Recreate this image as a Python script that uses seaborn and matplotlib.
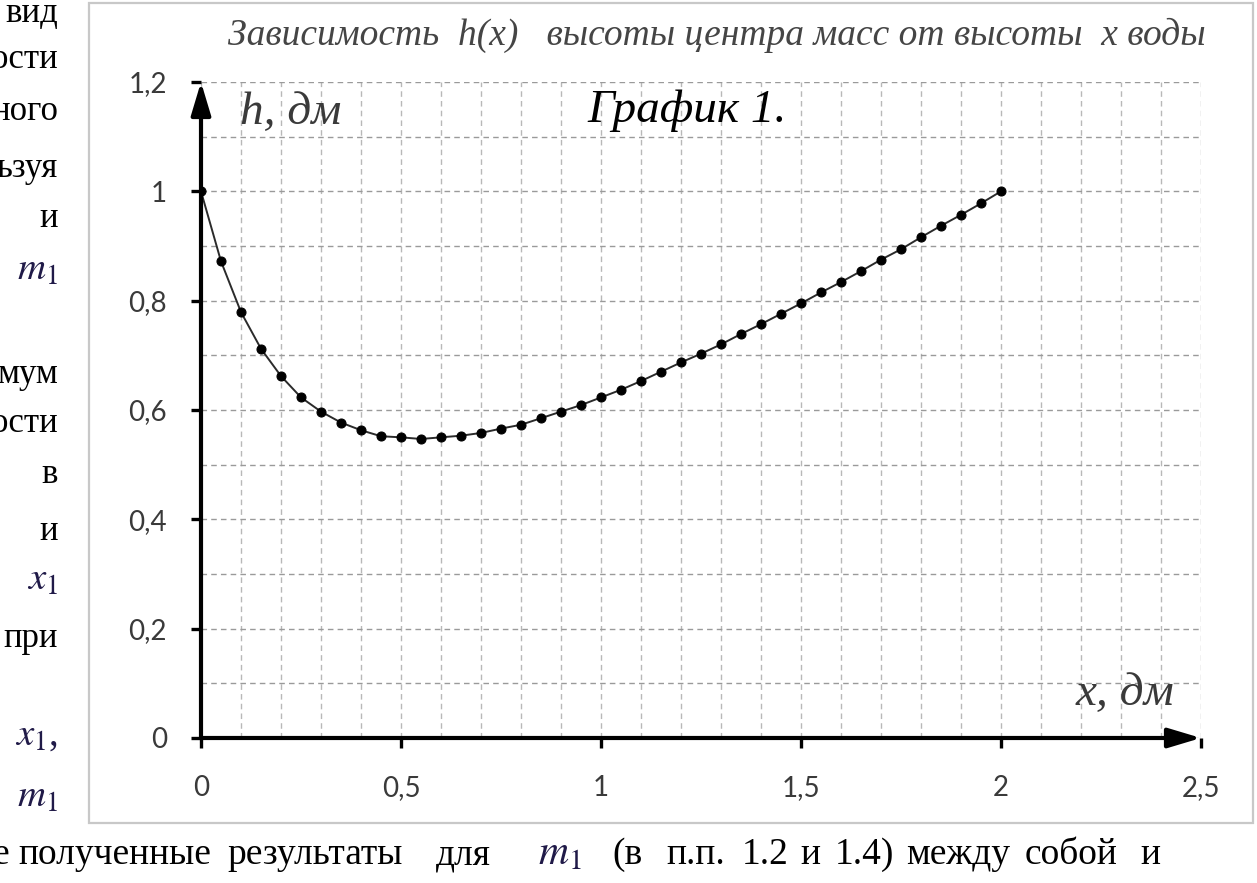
import numpy as np
import matplotlib
matplotlib.use("Agg")
import matplotlib.pyplot as plt
import seaborn as sns
from matplotlib.patches import Rectangle

# data
x_vals = [0.0, 0.05, 0.1, 0.15, 0.2, 0.25, 0.3, 0.35, 0.4, 0.45, 0.5,
          0.55, 0.6, 0.65, 0.7, 0.75, 0.8, 0.85, 0.9, 0.95, 1.0,
          1.05, 1.1, 1.15, 1.2, 1.25, 1.3, 1.35, 1.4, 1.45, 1.5,
          1.55, 1.6, 1.65, 1.7, 1.75, 1.8, 1.85, 1.9, 1.95, 2.0]
h_vals = [1.0, 0.872, 0.779, 0.712, 0.662, 0.623, 0.597, 0.577, 0.563, 0.552, 0.550,
          0.547, 0.550, 0.553, 0.558, 0.566, 0.573, 0.585, 0.597, 0.609, 0.623,
          0.637, 0.653, 0.670, 0.687, 0.703, 0.720, 0.739, 0.757, 0.776, 0.795,
          0.815, 0.834, 0.854, 0.875, 0.894, 0.916, 0.937, 0.957, 0.978, 1.0]

x_ticks = [0, 0.5, 1, 1.5, 2, 2.5]
x_tick_labels = ["0", "0,5", "1", "1,5", "2", "2,5"]
y_ticks = [0, 0.2, 0.4, 0.6, 0.8, 1.0, 1.2]
y_tick_labels = ["0", "0,2", "0,4", "0,6", "0,8", "1", "1,2"]

title_text = "Зависимость  h(x)   высоты центра масс от высоты  x воды"

# fragments of the surrounding page text
side_words = [("вид", 22), ("ости", 68), ("ного", 120), ("ьзуя", 177),
              ("и", 227), ("$m_1$", 280), ("мум", 383), ("ости", 432),
              ("в", 483), ("и", 540), ("$x_1$", 590), ("при", 647),
              ("$x_1$,", 745), ("$m_1$", 807)]
bottom_words = [("е", -8), ("полученные", 18), ("результаты", 227), ("для", 436),
                ("$m_1$", 538), ("(в", 612), ("п.п.", 666), ("1.2", 742),
                ("и", 800), ("1.4)", 835), ("между", 906), ("собой", 1025),
                ("и", 1140)]

W, H = 1257, 883


def fx(px):
    return px / W


def fy(py):
    return 1 - py / H


sns.set_theme(style="white")
plt.rcParams["font.family"] = ["Liberation Serif", "DejaVu Serif"]
plt.rcParams["mathtext.fontset"] = "stix"

fig = plt.figure(figsize=(W / 100, H / 100), dpi=100)
fig.patch.set_facecolor("white")

# chart frame
fig.add_artist(Rectangle((fx(89), fy(823)), fx(1253) - fx(89), fy(3) - fy(823),
                         transform=fig.transFigure, fill=False,
                         edgecolor="#c8c8c8", lw=1.6))

ax = fig.add_axes([fx(201), fy(738), fx(1201) - fx(201), fy(82) - fy(738)])
ax.set_facecolor("white")

sns.lineplot(x=x_vals, y=h_vals, ax=ax, color="#2b2b2b", lw=1.4,
             marker="o", markersize=6.5, markerfacecolor="black",
             markeredgecolor="black", zorder=5)

ax.set_xlim(0, 2.5)
ax.set_ylim(0, 1.2)
ax.set_xticks(x_ticks)
ax.set_xticklabels(x_tick_labels)
ax.set_yticks(y_ticks)
ax.set_yticklabels(y_tick_labels)
ax.set_xticks(np.arange(0, 2.51, 0.1), minor=True)
ax.set_yticks(np.arange(0, 1.21, 0.1), minor=True)
ax.set_xlabel("")
ax.set_ylabel("")

ax.xaxis.grid(True, which="both", color="#b8b8b8", lw=1.0, ls=(0, (4, 3)))
ax.yaxis.grid(True, which="both", color="#9a9a9a", lw=1.0, ls=(0, (4, 3)))
ax.set_axisbelow(True)

for s in ax.spines.values():
    s.set_visible(False)

ax.tick_params(axis="both", which="major", length=7.5, width=2.4, color="black",
               direction="out", labelsize=20, labelcolor="#3a3a3a")
ax.tick_params(axis="both", which="minor", length=0)
ax.tick_params(axis="y", pad=17, left=True)
ax.tick_params(axis="x", pad=19, bottom=True)
for lab in ax.get_xticklabels() + ax.get_yticklabels():
    lab.set_family(["Lato", "DejaVu Sans"])

# axes with arrows
arrow = dict(arrowstyle="-|>,head_length=1.0,head_width=0.3", lw=3,
             color="black", mutation_scale=20, shrinkA=0, shrinkB=0)
ax.annotate("", xy=(0, 1.2), xytext=(0, 0), arrowprops=arrow, zorder=6)
ax.annotate("", xy=(2.5, 0), xytext=(0, 0), arrowprops=arrow, zorder=6)

# texts inside the chart
fig.text(fx(717), fy(45), title_text, ha="center", va="baseline",
         fontsize=27, style="italic", color="#454545")
fig.text(fx(240), fy(124), "h, дм", ha="left", va="baseline",
         fontsize=34, style="italic", color="#3a3a3a")
fig.text(fx(587), fy(122), "График 1.", ha="left", va="baseline",
         fontsize=34, style="italic", color="black")
fig.text(fx(1076), fy(705), "x, дм", ha="left", va="baseline",
         fontsize=34, style="italic", color="#3a3a3a")

# page text around the chart
for word, base in side_words:
    math = "$" in word
    fig.text(fx(58), fy(base), word, ha="right", va="baseline",
             fontsize=28 if math else 25,
             color="#201a48" if math else "black")
for word, left in bottom_words:
    math = "$" in word
    fig.text(fx(left), fy(864), word, ha="left", va="baseline",
             fontsize=30 if math else 27,
             color="#201a48" if math else "black")

fig.savefig("out.png", dpi=100, facecolor="white")
